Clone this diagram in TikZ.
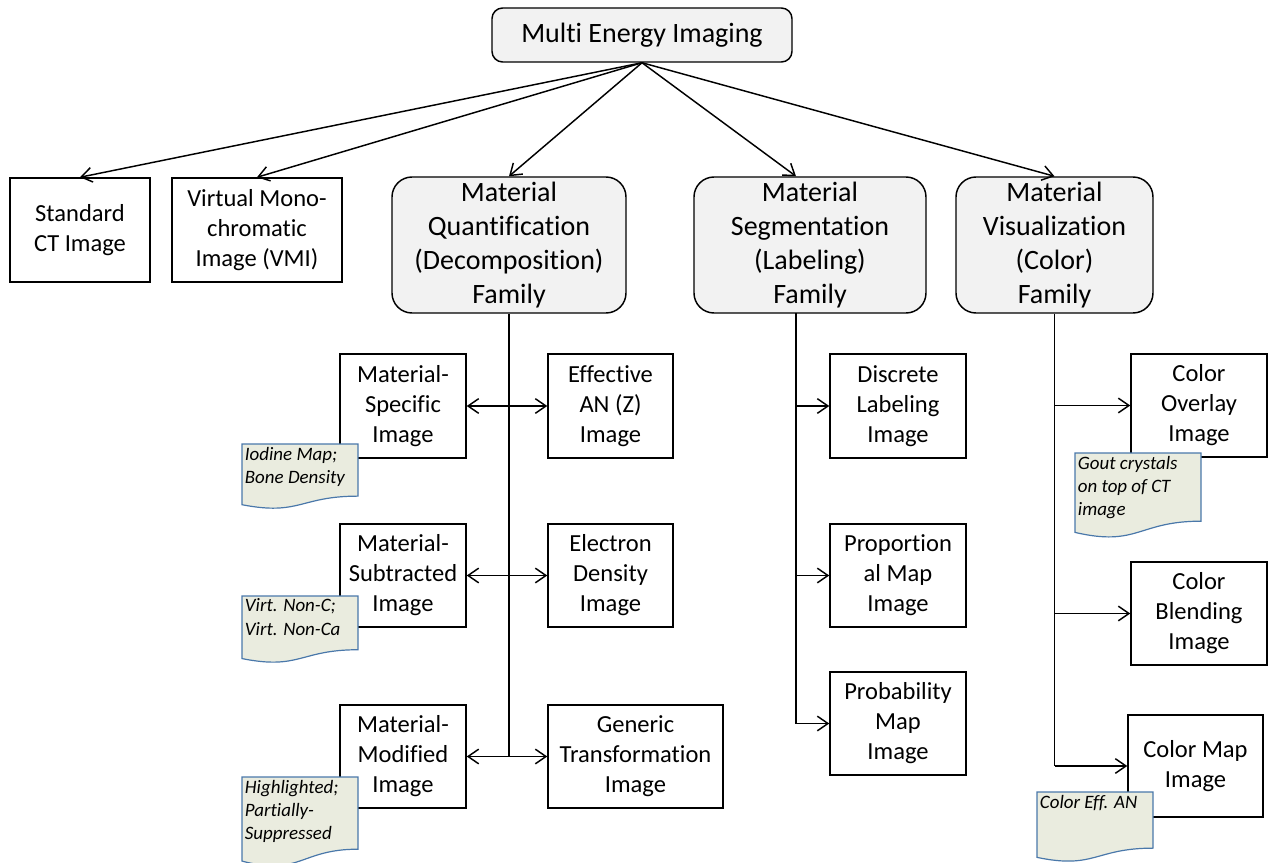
\documentclass[tikz,border=0pt]{standalone}
\usepackage{fontspec}
\setmainfont{Carlito}[Ligatures=NoCommon]
\usetikzlibrary{arrows.meta}

\definecolor{boxgrey}{HTML}{F2F2F2}
\definecolor{notefill}{HTML}{EAECDF}
\definecolor{noteline}{HTML}{4A78AA}

\tikzset{
	imgbox/.style={draw, line width=1.1pt, align=center, inner sep=1pt, font=\fontsize{18.4}{22.5}\selectfont},
	family/.style={draw, line width=1.1pt, rounded corners=15pt, fill=boxgrey, align=center, font=\fontsize{21}{25.5}\selectfont},
	boxdim/.style 2 args={minimum width=#1*0.75pt, minimum height=#2*0.75pt},
	link/.style={line width=1.1pt, -{Straight Barb[length=8pt,width=11pt]}},
	twolink/.style={line width=1.1pt, {Straight Barb[length=8pt,width=11pt]}-{Straight Barb[length=8pt,width=11pt]}},
	trunk/.style={line width=1.2pt},
	notestyle/.style={fill=notefill, draw=noteline, line width=0.9pt},
	notetext/.style={anchor=north west, align=left, inner sep=2pt, font=\fontsize{14.2}{17.3}\selectfont\itshape}
}

% note with a wavy bottom: name, x, y, width, height, text
\newcommand{\docnote}[6]{%
	\filldraw[notestyle] (#2,#3) -- ({#2+#4},#3) -- ({#2+#4},{#3+0.802*#5})
		.. controls ({#2+0.5*#4},{#3+0.802*#5}) and ({#2+0.5*#4},{#3+1.107*#5}) .. (#2,{#3+0.934*#5}) -- cycle;
	\node[notetext] (#1) at (#2,#3) {#6};
}

\begin{document}
\begin{tikzpicture}[x=0.75pt, y=-0.75pt]
	\useasboundingbox (0,0) rectangle (1268,863);
	
	\node[family, boxdim={300}{54}, rounded corners=8pt] (mei) at (642,35) {Multi Energy Imaging};
	
	\node[imgbox, boxdim={140}{104}] (std) at (80,230) {Standard\\CT Image};
	\node[imgbox, boxdim={170}{104}] (vmi) at (257,230) {Virtual Mono-\\chromatic\\Image (VMI)};
	\node[family, boxdim={234}{136}] (quant) at (509,245) {Material\\Quantification\\(Decomposition)\\Family};
	\node[family, boxdim={232}{136}] (seg) at (810,245) {Material\\Segmentation\\(Labeling)\\Family};
	\node[family, boxdim={197}{136}] (vis) at (1054.5,245) {Material\\Visualization\\(Color)\\Family};
	
	\coordinate (segtop) at (796,313);
	
	\draw[link] (mei.south) -- (std.north);
	\draw[link] (mei.south) -- (vmi.north);
	\draw[link] (mei.south) -- (quant.north);
	\draw[link] (mei.south) -- (segtop |- seg.north);
	\draw[link] (mei.south) -- (vis.north);
	
	% quantification family
	\node[imgbox, boxdim={126}{104}] (msi) at (403,406) {Material-\\Specific\\Image};
	\node[imgbox, boxdim={125}{104}] (eff) at (610.5,406) {Effective\\AN (Z)\\Image};
	\node[imgbox, boxdim={126}{103}] (msub) at (403,575.5) {Material-\\Subtracted\\Image};
	\node[imgbox, boxdim={125}{103}] (eld) at (610.5,575.5) {Electron\\Density\\Image};
	\node[imgbox, boxdim={126}{103}] (mmod) at (403,756.5) {Material-\\Modified\\Image};
	\node[imgbox, boxdim={175}{103}] (gen) at (635.5,756.5) {Generic\\Transformation\\Image};
	
	\draw[trunk, line width=2pt] (quant.south) -- (quant.south |- mmod.east);
	\draw[twolink] (msi) -- (eff);
	\draw[twolink] (msub) -- (eld);
	\draw[twolink] (mmod) -- (gen);
	
	% segmentation family
	\node[imgbox, boxdim={136}{104}] (dis) at (898,406) {Discrete\\Labeling\\Image};
	\node[imgbox, boxdim={136}{103}] (prop) at (898,575.5) {Proportion\\al Map\\Image};
	\node[imgbox, boxdim={136}{103}] (prob) at (898,723.5) {Probability\\Map\\Image};
	
	\draw[trunk] (segtop) -- (segtop |- prob.west);
	\draw[link] (segtop |- dis.west) -- (dis.west);
	\draw[link] (segtop |- prop.west) -- (prop.west);
	\draw[link] (segtop |- prob.west) -- (prob.west);
	
	% visualization family
	\node[imgbox, boxdim={136}{103}] (ovl) at (1199,405.5) {Color\\Overlay\\Image};
	\node[imgbox, boxdim={136}{103}] (bld) at (1199,613.5) {Color\\Blending\\Image};
	\node[imgbox, boxdim={135}{102}] (cmap) at (1195.5,766) {Color Map\\Image};
	
	\draw[trunk] (vis.south) -- (vis.south |- cmap.west);
	\draw[link] (vis.south |- ovl.west) -- (ovl.west);
	\draw[link] (vis.south |- bld.west) -- (bld.west);
	\draw[link] (vis.south |- cmap.west) -- (cmap.west);
	
	% notes
	\docnote{nIodine}{242}{444}{116}{65}{Iodine Map;\\Bone Density}
	\docnote{nVirt}{242}{596}{116}{67}{Virt. Non-C;\\Virt. Non-Ca}
	\docnote{nHigh}{242}{777}{116}{90}{Highlighted;\\Partially-\\Suppressed}
	\docnote{nGout}{1075}{453}{126}{85}{Gout crystals\\on top of CT\\image}
	\docnote{nEff}{1037}{792}{116}{70}{Color Eff. AN}
\end{tikzpicture}
\end{document}
